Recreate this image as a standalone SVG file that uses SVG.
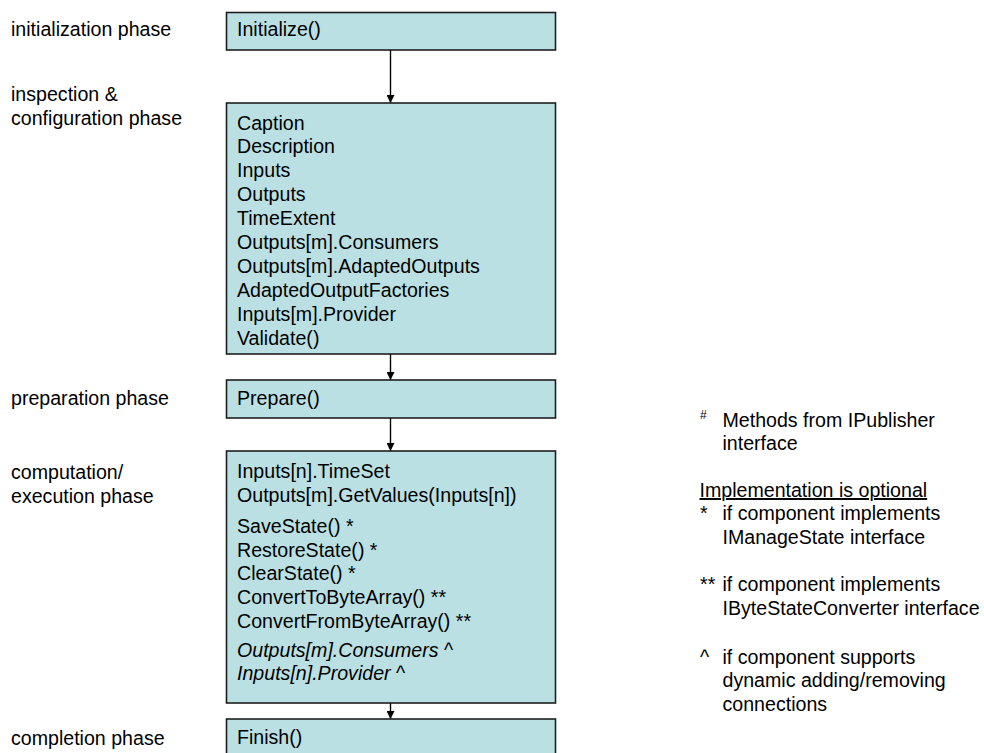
<svg xmlns="http://www.w3.org/2000/svg" width="984" height="753" viewBox="0 0 984 753">
  <style>
    text { font-family: "Liberation Sans", Arial, sans-serif; font-size: 19.6px; fill: #000; }
    .box { fill: #BBE0E3; stroke: #1e1e1e; stroke-width: 1.6; }
    .conn { stroke: #000; stroke-width: 1.4; fill: none; marker-end: url(#arrow); }
    .it { font-style: italic; }
    .sup { font-size: 12px; }
    .ul { text-decoration: underline; }
  </style>
  <defs>
    <marker id="arrow" viewBox="0 0 8 8" refX="8" refY="4" markerWidth="8" markerHeight="8" markerUnits="userSpaceOnUse" orient="auto">
      <path d="M0,0 L8,4 L0,8 Z" fill="#000"/>
    </marker>
  </defs>

  <!-- phase labels -->
  <g id="phase-labels">
    <text x="11" y="36">initialization phase</text>
    <text x="11" y="101">inspection &amp;</text>
    <text x="11" y="125">configuration phase</text>
    <text x="11" y="405">preparation phase</text>
    <text x="11" y="479">computation/</text>
    <text x="11" y="503">execution phase</text>
    <text x="11" y="745">completion phase</text>
  </g>

  <!-- connectors -->
  <g id="connectors">
    <line class="conn" x1="390.5" y1="50" x2="390.5" y2="103"/>
    <line class="conn" x1="390.5" y1="354" x2="390.5" y2="380"/>
    <line class="conn" x1="390.5" y1="418" x2="390.5" y2="451"/>
    <line class="conn" x1="390.5" y1="703" x2="390.5" y2="719"/>
  </g>

  <g id="initialize">
    <rect class="box" x="226.5" y="12.5" width="329" height="37.5"/>
    <text x="237" y="36">Initialize()</text>
  </g>

  <g id="inspection">
    <rect class="box" x="226.5" y="103" width="329" height="251"/>
    <text x="237" y="129.5">Caption</text>
    <text x="237" y="153.4">Description</text>
    <text x="237" y="177.3">Inputs</text>
    <text x="237" y="201.2">Outputs</text>
    <text x="237" y="225.1">TimeExtent</text>
    <text x="237" y="249">Outputs[m].Consumers</text>
    <text x="237" y="272.9">Outputs[m].AdaptedOutputs</text>
    <text x="237" y="296.8">AdaptedOutputFactories</text>
    <text x="237" y="320.7">Inputs[m].Provider</text>
    <text x="237" y="344.6">Validate()</text>
  </g>

  <g id="prepare">
    <rect class="box" x="226.5" y="380" width="329" height="38"/>
    <text x="237" y="404.5">Prepare()</text>
  </g>

  <g id="computation">
    <rect class="box" x="226.5" y="451" width="329" height="252"/>
    <text x="237" y="478">Inputs[n].TimeSet</text>
    <text x="237" y="501.5">Outputs[m].GetValues(Inputs[n])</text>
    <text x="237" y="533">SaveState() *</text>
    <text x="237" y="556.5">RestoreState() *</text>
    <text x="237" y="580">ClearState() *</text>
    <text x="237" y="604">ConvertToByteArray() **</text>
    <text x="237" y="627.5">ConvertFromByteArray() **</text>
    <text x="237" y="656.5"><tspan class="it">Outputs[m].Consumers</tspan> ^</text>
    <text x="237" y="679.5"><tspan class="it">Inputs[n].Provider</tspan> ^</text>
  </g>

  <g id="finish">
    <rect class="box" x="226.5" y="719" width="329" height="45"/>
    <text x="237" y="743.5">Finish()</text>
  </g>

  <!-- legend -->
  <g id="legend">
    <text class="sup" x="700" y="419">#</text>
    <text x="722.5" y="426.5">Methods from IPublisher</text>
    <text x="722.5" y="450">interface</text>
    <text class="ul" x="699.5" y="497">Implementation is optional</text>
    <text x="700" y="520">*</text>
    <text x="722.5" y="520">if component implements</text>
    <text x="722.5" y="543.5">IManageState interface</text>
    <text x="700" y="591">**</text>
    <text x="722.5" y="591">if component implements</text>
    <text x="722.5" y="614.5">IByteStateConverter interface</text>
    <text x="700" y="663.5">^</text>
    <text x="722.5" y="663.5">if component supports</text>
    <text x="722.5" y="687">dynamic adding/removing</text>
    <text x="722.5" y="710.5">connections</text>
  </g>
</svg>
